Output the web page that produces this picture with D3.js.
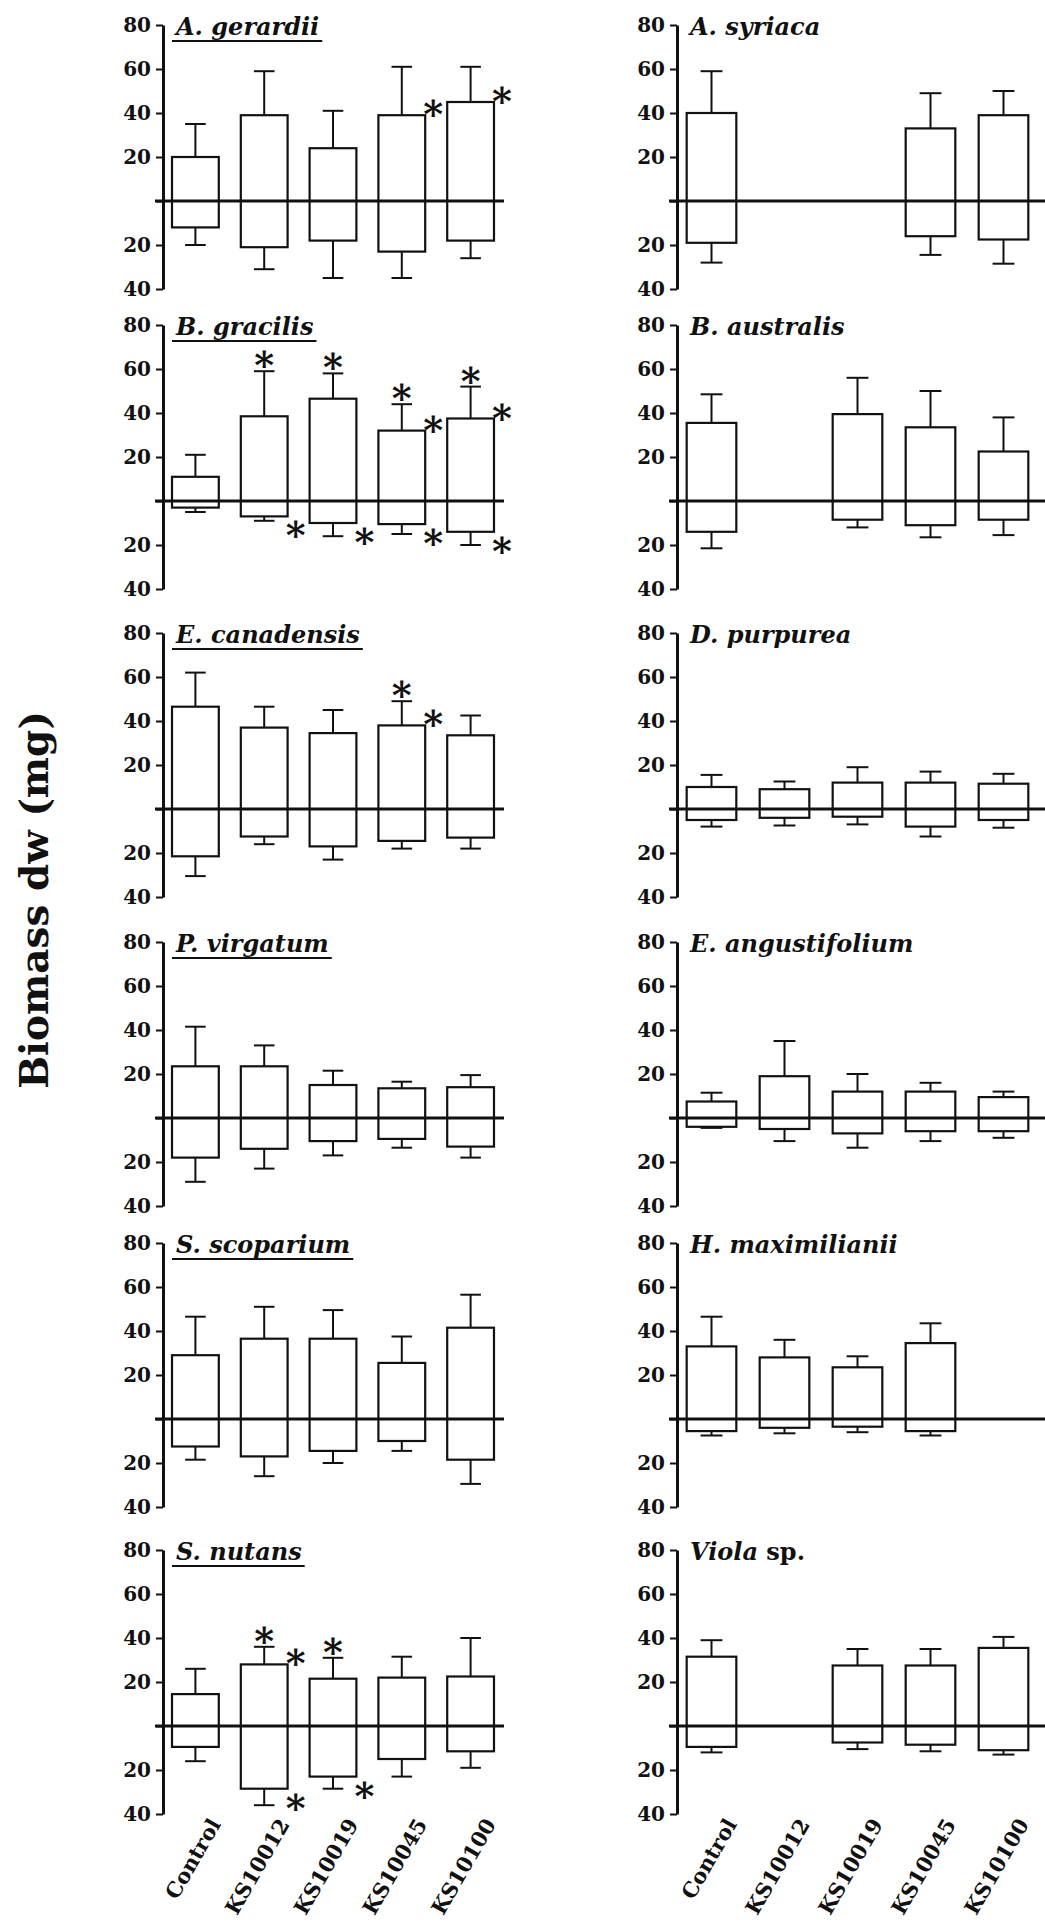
<!DOCTYPE html>
<html>
<head>
<meta charset="utf-8">
<script src="https://cdn.jsdelivr.net/npm/d3@7"></script>
<style>
  body { margin: 0; background: #fff; }
  svg text { font-family: "DejaVu Serif", "Liberation Serif", serif; fill: #111; }
</style>
</head>
<body>
<svg id="chart" width="1045" height="1923"></svg>
<script>
// Treatments (x categories)
const treatments = ['Control', 'KS10012', 'KS10019', 'KS10045', 'KS10100'];

// Species, row by row (left column, right column)
const species = [
    'A. gerardii', 'A. syriaca',
    'B. gracilis', 'B. australis',
    'E. canadensis', 'D. purpurea',
    'P. virgatum', 'E. angustifolium',
    'S. scoparium', 'H. maximilianii',
    'S. nutans', 'Viola sp.'
];

// Shoot biomass (above zero) mean and error, mg
const shootMean = [
    [20, 39, 24, 39, 45],
    [40, null, null, 33, 39],
    [11, 38.5, 46.5, 32, 37.5],
    [35.5, null, 39.5, 33.5, 22.5],
    [46.5, 37, 34.5, 38, 33.5],
    [10, 9, 12, 12, 11.5],
    [23.5, 23.5, 15, 13.5, 14],
    [7.5, 19, 12, 12, 9.5],
    [29, 36.5, 36.5, 25.5, 41.5],
    [33, 28, 23.5, 34.5, null],
    [14.5, 28, 21.5, 22, 22.5],
    [31.5, null, 27.5, 27.5, 35.5]
];
const shootErr = [
    [15, 20, 17, 22, 16],
    [19, null, null, 16, 11],
    [10, 20.5, 11.5, 12, 14.5],
    [13, null, 16.5, 16.5, 15.5],
    [15.5, 9.5, 10.5, 11, 9],
    [5.5, 3.5, 7, 5, 4.5],
    [18, 9.5, 6.5, 3, 5.5],
    [4, 16, 8, 4, 2.5],
    [17.5, 14.5, 13, 12, 15],
    [13.5, 8, 5, 9, null],
    [11.5, 8, 9.5, 9.5, 17.5],
    [7.5, null, 7.5, 7.5, 5]
];

// Root biomass (below zero) mean and error, mg
const rootMean = [
    [12, 21, 18, 23, 18],
    [19, null, null, 16, 17.5],
    [3, 7, 10, 10.5, 14],
    [14, null, 8.5, 11, 8.5],
    [21.5, 12.5, 17, 14.5, 13],
    [5, 4, 3.5, 8, 5],
    [18, 14, 10.5, 9.5, 13],
    [4, 5, 7, 6, 6],
    [12.5, 17, 14.5, 10, 18.5],
    [5.5, 4, 3.5, 5.5, null],
    [9.5, 28.5, 23, 15, 11.5],
    [9.5, null, 7.5, 8.5, 11]
];
const rootErr = [
    [8, 10, 17, 12, 8],
    [9, null, null, 8.5, 11],
    [2, 2, 6, 4.5, 6],
    [7.5, null, 3.5, 5.5, 7],
    [9, 3.5, 6, 3.5, 5],
    [3, 3.5, 3.5, 4.5, 3.5],
    [11, 9, 6.5, 4, 5],
    [0.5, 5.5, 6.5, 4.5, 3],
    [6, 9, 5.5, 4.5, 11],
    [2, 2.5, 2.5, 2, null],
    [6.5, 7.5, 5.5, 8, 7.5],
    [2.5, null, 3, 3, 2]
];

// Significance marks: [species index, treatment index, where]
// where: 'cap' above shoot error bar, 'top' right of shoot bar, 'bottom' right of root bar
const stars = [
    [0, 3, 'top'], [0, 4, 'top'],
    [2, 1, 'cap'], [2, 1, 'bottom'],
    [2, 2, 'cap'], [2, 2, 'bottom'],
    [2, 3, 'cap'], [2, 3, 'top'], [2, 3, 'bottom'],
    [2, 4, 'cap'], [2, 4, 'top'], [2, 4, 'bottom'],
    [4, 3, 'cap'], [4, 3, 'top'],
    [10, 1, 'cap'], [10, 1, 'top'], [10, 1, 'bottom'],
    [10, 2, 'cap'], [10, 2, 'bottom']
];

const yTicks = [-40, -20, 0, 20, 40, 60, 80];

// Layout
const rowTops = [25, 325, 633, 942, 1243, 1550];
const panelH = 264;
const cols = [
    { axisX: 163, band: [161, 505], lineEnd: 504 },
    { axisX: 677, band: [675, 1040], lineEnd: 1045 }
];

const svg = d3.select('#chart');
svg.append('rect').attr('width', 1045).attr('height', 1923).attr('fill', '#fff');

species.forEach((name, i) => {
    const row = Math.floor(i / 2);
    const col = cols[i % 2];
    const top = rowTops[row];

    const y = d3.scaleLinear().domain([-40, 80]).range([top + panelH, top]);
    const x = d3.scaleBand().domain(treatments).range(col.band)
        .paddingInner(0.32).paddingOuter(0.16);
    const bw = x.bandwidth();
    const capW = bw * 0.44;

    const g = svg.append('g');

    // Y axis
    const axis = g.append('g')
        .attr('transform', `translate(${col.axisX},0)`)
        .call(d3.axisLeft(y)
            .tickValues(yTicks)
            .tickSize(7)
            .tickSizeOuter(0)
            .tickPadding(5)
            .tickFormat(d => d === 0 ? '' : Math.abs(d)));
    axis.select('.domain').attr('stroke', '#111').attr('stroke-width', 3);
    axis.selectAll('.tick line').attr('stroke', '#111').attr('stroke-width', 2);
    axis.selectAll('.tick text')
        .style('font-family', '"DejaVu Serif", serif')
        .style('font-size', '20px')
        .style('font-weight', 'bold')
        .attr('fill', '#111');

    const bars = treatments.map((t, j) => ({
        t: t,
        s: shootMean[i][j], se: shootErr[i][j],
        r: rootMean[i][j], re: rootErr[i][j]
    })).filter(d => d.s !== null);

    const cx = d => x(d.t) + bw / 2;

    // Error bars
    g.selectAll('line.up').data(bars).join('line')
        .attr('x1', cx).attr('x2', cx)
        .attr('y1', d => y(d.s)).attr('y2', d => y(d.s + d.se))
        .attr('stroke', '#111').attr('stroke-width', 2);
    g.selectAll('line.upcap').data(bars).join('line')
        .attr('x1', d => cx(d) - capW / 2).attr('x2', d => cx(d) + capW / 2)
        .attr('y1', d => y(d.s + d.se)).attr('y2', d => y(d.s + d.se))
        .attr('stroke', '#111').attr('stroke-width', 2);
    g.selectAll('line.down').data(bars).join('line')
        .attr('x1', cx).attr('x2', cx)
        .attr('y1', d => y(-d.r)).attr('y2', d => y(-d.r - d.re))
        .attr('stroke', '#111').attr('stroke-width', 2);
    g.selectAll('line.downcap').data(bars).join('line')
        .attr('x1', d => cx(d) - capW / 2).attr('x2', d => cx(d) + capW / 2)
        .attr('y1', d => y(-d.r - d.re)).attr('y2', d => y(-d.r - d.re))
        .attr('stroke', '#111').attr('stroke-width', 2);

    // Bars (shoot above, root below)
    g.selectAll('rect.bar').data(bars).join('rect')
        .attr('class', 'bar')
        .attr('x', d => x(d.t))
        .attr('y', d => y(d.s))
        .attr('width', bw)
        .attr('height', d => y(-d.r) - y(d.s))
        .attr('fill', '#fff')
        .attr('stroke', '#111')
        .attr('stroke-width', 2.2);

    // Zero line
    g.append('line')
        .attr('x1', col.axisX - 8).attr('x2', col.lineEnd)
        .attr('y1', y(0)).attr('y2', y(0))
        .attr('stroke', '#111').attr('stroke-width', 3);

    // Species title
    const tx = col.axisX + 13;
    const ty = y(80) + 10;
    const title = g.append('text')
        .attr('x', tx).attr('y', ty)
        .style('font-size', '24px')
        .style('font-weight', 'bold')
        .style('font-style', 'italic');
    if (name.endsWith(' sp.')) {
        title.append('tspan').text(name.replace(' sp.', ''));
        title.append('tspan').style('font-style', 'normal').text(' sp.');
    } else {
        title.text(name);
    }
    if (i % 2 === 0) {
        const len = title.node().getComputedTextLength();
        g.append('line')
            .attr('x1', tx - 4).attr('x2', tx + len + 3)
            .attr('y1', ty + 6).attr('y2', ty + 6)
            .attr('stroke', '#111').attr('stroke-width', 2);
    }

    // Significance asterisks
    stars.filter(s => s[0] === i).forEach(s => {
        const d = {
            t: treatments[s[1]],
            s: shootMean[i][s[1]], se: shootErr[i][s[1]],
            r: rootMean[i][s[1]], re: rootErr[i][s[1]]
        };
        let px, py;
        if (s[2] === 'cap') { px = cx(d); py = y(d.s + d.se) - 13; }
        else if (s[2] === 'top') { px = x(d.t) + bw + 8; py = y(d.s) - 8; }
        else { px = x(d.t) + bw + 8; py = y(-d.r) + 12; }
        g.append('text')
            .attr('x', px).attr('y', py + 20)
            .attr('text-anchor', 'middle')
            .style('font-size', '38px')
            .style('font-weight', 'bold')
            .text('*');
    });

    // Treatment labels on the bottom row
    if (row === rowTops.length - 1) {
        treatments.forEach(t => {
            const lx = x(t) + bw / 2 + 26;
            const ly = top + panelH + 10;
            g.append('text')
                .attr('transform', `translate(${lx},${ly}) rotate(-60)`)
                .attr('text-anchor', 'end')
                .style('font-size', '21px')
                .style('font-weight', 'bold')
                .text(t);
        });
    }
});

// Shared y-axis title
svg.append('text')
    .attr('transform', 'translate(48,900) rotate(-90)')
    .attr('text-anchor', 'middle')
    .style('font-size', '39px')
    .style('font-weight', 'bold')
    .text('Biomass dw (mg)');
</script>
</body>
</html>
